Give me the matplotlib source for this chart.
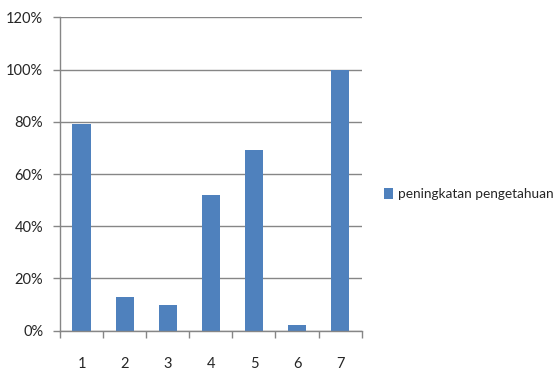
import matplotlib
matplotlib.use("Agg")
import matplotlib.pyplot as plt
from matplotlib.ticker import FixedLocator, NullFormatter
from matplotlib.patches import Patch

categories = ["1", "2", "3", "4", "5", "6", "7"]
values = [79, 13, 10, 52, 69, 2, 100]
series_name = "peningkatan pengetahuan"
y_ticks = [0, 20, 40, 60, 80, 100, 120]
y_tick_labels = ["0%", "20%", "40%", "60%", "80%", "100%", "120%"]

plt.rcParams["font.family"] = ["Lato", "DejaVu Sans"]

bar_color = "#4F81BD"
axis_color = "#868686"
text_color = "#262626"

W, H = 557, 374
fig = plt.figure(figsize=(W / 100, H / 100), dpi=100)
ax = fig.add_axes([60 / W, (H - 330.7) / H, (361.7 - 60) / W, (330.7 - 17.3) / H])

x = list(range(len(categories)))
ax.bar(x, values, width=0.42, color=bar_color, zorder=3)

ax.set_xlim(-0.5, len(categories) - 0.5)
ax.set_ylim(0, 120)

ax.set_yticks(y_ticks)
ax.set_yticklabels(y_tick_labels)
ax.yaxis.grid(True, color=axis_color, linewidth=1.0, zorder=0)
ax.tick_params(axis="y", length=5, width=1, color=axis_color, pad=7,
               labelsize=10.5, labelcolor=text_color)

# category labels centred under bars, tick marks on category boundaries
ax.set_xticks(x)
ax.set_xticklabels(categories)
ax.tick_params(axis="x", which="major", length=0, pad=19,
               labelsize=10.5, labelcolor=text_color)
ax.xaxis.set_minor_locator(FixedLocator([i - 0.5 for i in range(len(categories) + 1)]))
ax.xaxis.set_minor_formatter(NullFormatter())
ax.tick_params(axis="x", which="minor", length=5, width=1, color=axis_color)

for side in ("top", "right"):
    ax.spines[side].set_visible(False)
for side in ("left", "bottom"):
    ax.spines[side].set_color(axis_color)
    ax.spines[side].set_linewidth(1.0)
ax.spines["bottom"].set_zorder(4)

handle = Patch(facecolor=bar_color, edgecolor="none", label=series_name)
fig.legend(handles=[handle], loc="center left",
           bbox_to_anchor=(384 / W, (H - 194) / H), frameon=False,
           handlelength=0.65, handleheight=0.85, handletextpad=0.35,
           borderaxespad=0, borderpad=0, fontsize=9.8, labelcolor=text_color)

fig.savefig("out.png", dpi=100, facecolor="white")
